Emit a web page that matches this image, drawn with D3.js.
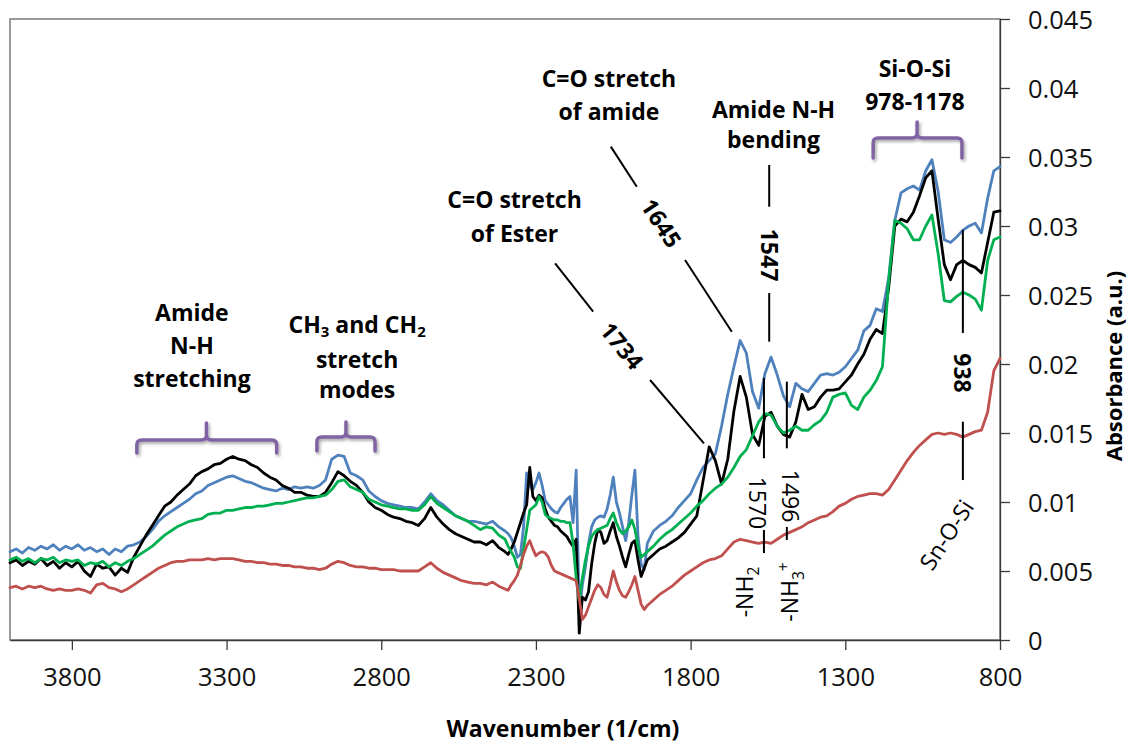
<!DOCTYPE html>
<html>
<head>
<meta charset="utf-8">
<script src="https://cdn.jsdelivr.net/npm/d3@7"></script>
<style>
  html, body { margin: 0; padding: 0; background: #fff; }
  svg { display: block; }
</style>
</head>
<body>
<svg id="chart" width="1132" height="746"></svg>
<script>
// ---------------- DATA ----------------
const xTickValues = [3800, 3300, 2800, 2300, 1800, 1300, 800];
const yTickValues = [0, 0.005, 0.01, 0.015, 0.02, 0.025, 0.03, 0.035, 0.04, 0.045];
const xAxisTitle = "Wavenumber (1/cm)";
const yAxisTitle = "Absorbance (a.u.)";

// [wavenumber (1/cm), absorbance]
const blackSeries = [
[4000,.0056],[3980,.0058],[3960,.0054],[3940,.0057],[3920,.0055],[3900,.0059],[3880,.0054],[3860,.0057],[3840,.0052],[3820,.0056],
[3800,.0053],[3780,.0057],[3760,.0050],[3740,.0046],[3720,.0055],[3700,.0052],[3680,.0053],[3660,.0047],[3640,.0052],[3620,.0049],
[3600,.0060],[3580,.0068],[3560,.0076],[3540,.0083],[3520,.0090],[3500,.0097],[3480,.0100],[3460,.0105],[3440,.0109],[3420,.0113],
[3400,.0119],[3380,.0122],[3360,.0124],[3340,.0127],[3320,.0128],[3300,.0131],[3280,.0133],[3260,.0131],[3240,.0130],[3220,.0127],
[3200,.0125],[3180,.0121],[3160,.0118],[3140,.0116],[3120,.0112],[3100,.0110],[3080,.0107],[3060,.0107],[3040,.0105],[3020,.0104],
[3000,.0104],[2980,.0107],[2960,.0114],[2940,.0122],[2920,.0119],[2900,.0115],[2880,.0112],[2860,.0107],[2840,.0100],[2820,.0096],
[2800,.0094],[2780,.0091],[2760,.0089],[2740,.0088],[2720,.0086],[2700,.0085],[2680,.0083],[2660,.0088],[2640,.0096],[2620,.0089],
[2600,.0084],[2580,.0080],[2560,.0077],[2540,.0075],[2520,.0073],[2500,.0071],[2480,.0071],[2460,.0069],[2440,.0072],[2420,.0067],
[2400,.0064],[2390,.0062],[2380,.0066],[2370,.0071],[2360,.0078],[2350,.0085],[2340,.0092],[2330,.0098],[2320,.0125],[2310,.0104],
[2300,.0101],[2290,.0105],[2280,.0103],[2270,.0095],[2260,.0089],[2250,.0086],[2240,.0083],[2230,.0082],[2220,.0079],[2210,.0077],
[2200,.0075],[2190,.0071],[2180,.0068],[2170,.0073],[2160,.0005],[2150,.0031],[2140,.0029],[2130,.0035],[2120,.0055],[2110,.0070],
[2100,.0080],[2090,.0078],[2080,.0070],[2070,.0072],[2060,.0079],[2050,.0085],[2040,.0075],[2030,.0068],[2020,.0060],[2010,.0053],
[2000,.0062],[1990,.0070],[1980,.0072],[1970,.0058],[1960,.0046],[1950,.0052],[1940,.0058],
[1920,.0062],[1900,.0066],[1880,.0068],[1860,.0071],[1840,.0074],[1820,.0078],[1800,.0084],[1780,.0090],[1760,.0115],[1740,.0140],
[1720,.0130],[1700,.0113],[1680,.0131],[1660,.0166],[1640,.0191],[1620,.0176],[1600,.0149],[1580,.0141],[1560,.0162],[1540,.0165],
[1520,.0155],[1500,.0149],[1480,.0147],[1460,.0158],[1440,.0178],[1420,.0167],[1400,.0169],[1380,.0176],[1360,.0181],[1340,.0181],
[1320,.0182],[1300,.0187],[1280,.0192],[1260,.0200],[1240,.0207],[1220,.0218],[1200,.0225],[1180,.0222],[1160,.0255],[1140,.0300],
[1120,.0305],[1100,.0303],[1080,.0310],[1060,.0322],[1040,.0335],[1020,.0340],[1000,.0305],[980,.0272],[960,.0261],[940,.0272],
[920,.0275],[900,.0272],[880,.0270],[860,.0266],[840,.0288],[820,.0310],[800,.0311]
];

const blueSeries = [
[4000,.0064],[3980,.0066],[3960,.0063],[3940,.0067],[3920,.0065],[3900,.0068],[3880,.0066],[3860,.0069],[3840,.0065],[3820,.0068],
[3800,.0066],[3780,.0069],[3760,.0065],[3740,.0067],[3720,.0064],[3700,.0066],[3680,.0062],[3660,.0066],[3640,.0064],[3620,.0068],
[3600,.0069],[3580,.0071],[3560,.0075],[3540,.0080],[3520,.0086],[3500,.0090],[3480,.0093],[3460,.0096],[3440,.0099],[3420,.0102],
[3400,.0106],[3380,.0108],[3360,.0112],[3340,.0114],[3320,.0116],[3300,.0118],[3280,.0119],[3260,.0117],[3240,.0115],[3220,.0114],
[3200,.0112],[3180,.0110],[3160,.0109],[3140,.0108],[3120,.0110],[3100,.0109],[3080,.0111],[3060,.0110],[3040,.0111],[3020,.0110],
[3000,.0112],[2980,.0116],[2960,.0131],[2940,.0134],[2920,.0133],[2900,.0121],[2880,.0119],[2860,.0116],[2840,.0108],[2820,.0104],
[2800,.0101],[2780,.0099],[2760,.0098],[2740,.0097],[2720,.0096],[2700,.0096],[2680,.0095],[2660,.0100],[2640,.0106],[2620,.0101],
[2600,.0098],[2580,.0094],[2560,.0090],[2540,.0088],[2520,.0086],[2500,.0086],[2480,.0085],[2460,.0084],[2440,.0086],[2420,.0082],
[2400,.0079],[2390,.0077],[2380,.0074],[2370,.0068],[2360,.0060],[2350,.0062],[2340,.0082],[2330,.0121],[2320,.0112],[2310,.0109],
[2300,.0114],[2290,.0121],[2280,.0112],[2270,.0101],[2260,.0098],[2250,.0095],[2240,.0093],[2230,.0092],[2220,.0096],[2210,.0099],
[2200,.0102],[2190,.0104],[2180,.0085],[2170,.0123],[2160,.0020],[2150,.0040],[2140,.0053],[2130,.0070],[2120,.0082],[2110,.0087],
[2100,.0089],[2090,.0090],[2080,.0089],[2070,.0095],[2060,.0105],[2050,.0118],[2040,.0100],[2030,.0092],[2020,.0082],[2010,.0072],
[2000,.0085],[1990,.0105],[1980,.0123],[1970,.0075],[1960,.0055],[1950,.0051],[1940,.0070],
[1920,.0079],[1900,.0083],[1880,.0086],[1860,.0090],[1840,.0096],[1820,.0101],[1800,.0106],[1780,.0116],[1760,.0125],[1740,.0130],
[1720,.0135],[1700,.0155],[1680,.0178],[1660,.0198],[1640,.0217],[1620,.0208],[1600,.0180],[1580,.0168],[1560,.0193],[1540,.0205],
[1520,.0192],[1500,.0177],[1480,.0169],[1460,.0186],[1440,.0182],[1420,.0180],[1400,.0186],[1380,.0192],[1360,.0193],[1340,.0192],
[1320,.0194],[1300,.0198],[1280,.0204],[1260,.0210],[1240,.0224],[1220,.0228],[1200,.0240],[1180,.0238],[1160,.0262],[1140,.0304],
[1120,.0324],[1100,.0327],[1080,.0329],[1060,.0326],[1040,.0340],[1020,.0348],[1000,.0325],[980,.0290],[960,.0288],[940,.0292],
[920,.0297],[900,.0300],[880,.0302],[860,.0295],[840,.0320],[820,.0340],[800,.0343]
];

const greenSeries = [
[4000,.0058],[3980,.0060],[3960,.0057],[3940,.0059],[3920,.0056],[3900,.0059],[3880,.0058],[3860,.0060],[3840,.0056],[3820,.0058],
[3800,.0057],[3780,.0058],[3760,.0054],[3740,.0056],[3720,.0055],[3700,.0057],[3680,.0053],[3660,.0056],[3640,.0054],[3620,.0057],
[3600,.0059],[3580,.0062],[3560,.0065],[3540,.0068],[3520,.0072],[3500,.0076],[3480,.0079],[3460,.0082],[3440,.0084],[3420,.0086],
[3400,.0087],[3380,.0088],[3360,.0091],[3340,.0092],[3320,.0092],[3300,.0094],[3280,.0094],[3260,.0095],[3240,.0096],[3220,.0096],
[3200,.0097],[3180,.0097],[3160,.0098],[3140,.0099],[3120,.0099],[3100,.0100],[3080,.0101],[3060,.0102],[3040,.0103],[3020,.0103],
[3000,.0104],[2980,.0105],[2960,.0109],[2940,.0115],[2920,.0116],[2900,.0111],[2880,.0109],[2860,.0107],[2840,.0102],[2820,.0100],
[2800,.0098],[2780,.0097],[2760,.0096],[2740,.0095],[2720,.0095],[2700,.0094],[2680,.0094],[2660,.0098],[2640,.0104],[2620,.0099],
[2600,.0096],[2580,.0093],[2560,.0090],[2540,.0088],[2520,.0086],[2500,.0083],[2480,.0080],[2460,.0082],[2440,.0081],[2420,.0076],
[2400,.0073],[2390,.0068],[2380,.0064],[2370,.0060],[2360,.0053],[2350,.0052],[2340,.0066],[2330,.0080],[2320,.0094],[2310,.0096],
[2300,.0098],[2290,.0104],[2280,.0100],[2270,.0091],[2260,.0089],[2250,.0088],[2240,.0087],[2230,.0087],[2220,.0086],[2210,.0086],
[2200,.0085],[2190,.0085],[2180,.0070],[2170,.0045],[2160,.0029],[2150,.0045],[2140,.0058],[2130,.0068],[2120,.0075],[2110,.0078],
[2100,.0080],[2090,.0081],[2080,.0082],[2070,.0083],[2060,.0088],[2050,.0092],[2040,.0085],[2030,.0080],[2020,.0077],[2010,.0079],
[2000,.0082],[1990,.0087],[1980,.0080],[1970,.0068],[1960,.0060],[1950,.0062],[1940,.0064],
[1920,.0068],[1900,.0073],[1880,.0077],[1860,.0080],[1840,.0084],[1820,.0088],[1800,.0092],[1780,.0097],[1760,.0101],[1740,.0106],
[1720,.0110],[1700,.0113],[1680,.0118],[1660,.0125],[1640,.0133],[1620,.0138],[1600,.0148],[1580,.0158],[1560,.0164],[1540,.0163],
[1520,.0155],[1500,.0150],[1480,.0152],[1460,.0155],[1440,.0152],[1420,.0152],[1400,.0156],[1380,.0159],[1360,.0165],[1340,.0176],
[1320,.0178],[1300,.0179],[1280,.0170],[1260,.0167],[1240,.0176],[1220,.0181],[1200,.0188],[1180,.0198],[1160,.0260],[1140,.0304],
[1120,.0302],[1100,.0298],[1080,.0290],[1060,.0290],[1040,.0300],[1020,.0308],[1000,.0280],[980,.0246],[960,.0245],[940,.0249],
[920,.0252],[900,.0250],[880,.0247],[860,.0239],[840,.0275],[820,.0290],[800,.0292]
];

const redSeries = [
[4000,.0038],[3980,.0039],[3960,.0037],[3940,.0039],[3920,.0038],[3900,.0039],[3880,.0037],[3860,.0036],[3840,.0037],[3820,.0036],
[3800,.0036],[3780,.0037],[3760,.0036],[3740,.0034],[3720,.0040],[3700,.0041],[3680,.0038],[3660,.0037],[3640,.0035],[3620,.0037],
[3600,.0040],[3580,.0043],[3560,.0046],[3540,.0049],[3520,.0052],[3500,.0054],[3480,.0056],[3460,.0057],[3440,.0057],[3420,.0058],
[3400,.0058],[3380,.0058],[3360,.0059],[3340,.0058],[3320,.0059],[3300,.0059],[3280,.0059],[3260,.0058],[3240,.0057],[3220,.0057],
[3200,.0056],[3180,.0056],[3160,.0055],[3140,.0055],[3120,.0054],[3100,.0054],[3080,.0053],[3060,.0053],[3040,.0052],[3020,.0052],
[3000,.0051],[2980,.0052],[2960,.0055],[2940,.0057],[2920,.0056],[2900,.0054],[2880,.0053],[2860,.0053],[2840,.0052],[2820,.0052],
[2800,.0051],[2780,.0051],[2760,.0051],[2740,.0050],[2720,.0050],[2700,.0050],[2680,.0050],[2660,.0053],[2640,.0056],[2620,.0052],
[2600,.0049],[2580,.0047],[2560,.0045],[2540,.0043],[2520,.0042],[2500,.0041],[2480,.0041],[2460,.0040],[2440,.0042],[2420,.0039],
[2400,.0037],[2390,.0036],[2380,.0040],[2370,.0043],[2360,.0047],[2350,.0054],[2340,.0062],[2330,.0068],[2320,.0072],[2310,.0066],
[2300,.0061],[2290,.0063],[2280,.0064],[2270,.0063],[2260,.0060],[2250,.0054],[2240,.0050],[2230,.0049],[2220,.0048],[2210,.0047],
[2200,.0046],[2190,.0045],[2180,.0044],[2170,.0043],[2160,.0030],[2150,.0015],[2140,.0018],[2130,.0024],[2120,.0030],[2110,.0036],
[2100,.0040],[2090,.0038],[2080,.0033],[2070,.0031],[2060,.0040],[2050,.0050],[2040,.0042],[2030,.0036],[2020,.0032],[2010,.0031],
[2000,.0035],[1990,.0040],[1980,.0046],[1970,.0036],[1960,.0026],[1950,.0022],[1940,.0025],
[1920,.0029],[1900,.0033],[1880,.0036],[1860,.0039],[1840,.0043],[1820,.0047],[1800,.0050],[1780,.0053],[1760,.0056],[1740,.0058],
[1720,.0059],[1700,.0061],[1680,.0066],[1660,.0071],[1640,.0073],[1620,.0072],[1600,.0071],[1580,.0070],[1560,.0071],[1540,.0070],
[1520,.0073],[1500,.0076],[1480,.0078],[1460,.0080],[1440,.0082],[1420,.0085],[1400,.0087],[1380,.0089],[1360,.0090],[1340,.0093],
[1320,.0097],[1300,.0099],[1280,.0102],[1260,.0104],[1240,.0105],[1220,.0106],[1200,.0106],[1180,.0105],[1160,.0109],[1140,.0116],
[1120,.0123],[1100,.0130],[1080,.0136],[1060,.0141],[1040,.0145],[1020,.0149],[1000,.0150],[980,.0149],[960,.0150],[940,.0149],
[920,.0147],[900,.0149],[880,.0151],[860,.0152],[840,.0165],[820,.0195],[800,.0204]
];

const seriesColors = { blue: "#4F81BD", black: "#000000", green: "#00B050", red: "#C0504D" };

// ---------------- LAYOUT ----------------
const svg = d3.select("#chart");
const margin = { left: 10, right: 132, top: 19, bottom: 106 };
const width = 1132, height = 746;
const x = d3.scaleLinear().domain([4000, 800]).range([margin.left, width - margin.right]);
const y = d3.scaleLinear().domain([0, 0.045]).range([height - margin.bottom, margin.top]);
const FONT = "'Open Sans', 'Noto Sans', Arial, sans-serif";

// Plot area frame
svg.append("rect")
  .attr("x", x(4000)).attr("y", y(0.045))
  .attr("width", x(800) - x(4000)).attr("height", y(0) - y(0.045))
  .attr("fill", "none").attr("stroke", "#7a7a7a").attr("stroke-width", 1.5);

// Axes
const xAxis = svg.append("g")
  .attr("transform", `translate(0,${y(0)})`)
  .call(d3.axisBottom(x).tickValues(xTickValues).tickSize(10).tickSizeOuter(0).tickFormat(d3.format("d")));
xAxis.selectAll("text").attr("y", 46).attr("dy", 0);

const yAxis = svg.append("g")
  .attr("transform", `translate(${x(800)},0)`)
  .call(d3.axisRight(y).tickValues(yTickValues).tickSize(10).tickSizeOuter(0).tickPadding(18)
    .tickFormat(d => String(+d.toFixed(3))));
yAxis.selectAll("text").attr("dy", "0.36em");

[xAxis, yAxis].forEach(g => {
  g.select(".domain").attr("stroke", "#3a3a3a").attr("stroke-width", 1.3);
  g.selectAll(".tick line").attr("stroke", "#3a3a3a").attr("stroke-width", 1.3);
  g.selectAll("text").attr("fill", "#111").style("font-family", FONT).style("font-size", "25.5px");
});

// Axis titles
svg.append("text")
  .attr("x", 563).attr("y", 737)
  .attr("text-anchor", "middle")
  .style("font-family", FONT).style("font-weight", "bold").style("font-size", "23px")
  .text(xAxisTitle);

svg.append("text")
  .attr("transform", `translate(1122,366) rotate(-90)`)
  .attr("text-anchor", "middle")
  .style("font-family", FONT).style("font-weight", "bold").style("font-size", "22px")
  .text(yAxisTitle);

// Series
const line = d3.line().x(d => x(d[0])).y(d => y(d[1]));
const drawOrder = [
  ["blue", blueSeries], ["black", blackSeries], ["green", greenSeries], ["red", redSeries]
];
drawOrder.forEach(([name, data]) => {
  svg.append("path")
    .datum(data)
    .attr("fill", "none")
    .attr("stroke", seriesColors[name])
    .attr("stroke-width", 2.8)
    .attr("stroke-linejoin", "round")
    .attr("stroke-linecap", "round")
    .attr("d", line);
});

// ---------------- ANNOTATIONS ----------------
const defs = svg.append("defs");
const f = defs.append("filter").attr("id", "shadow").attr("x", "-20%").attr("y", "-50%").attr("width", "140%").attr("height", "200%");
f.append("feDropShadow").attr("dx", 1.5).attr("dy", 2).attr("stdDeviation", 1.6)
  .attr("flood-color", "#000").attr("flood-opacity", 0.35);

// brackets: [left wn, center wn, right wn, horizontal abs, end abs, stem-top abs]
const brackets = [
  [3590, 3365, 3138, 0.01449, 0.01355, 0.01572],
  [3008, 2914, 2820, 0.01471, 0.01370, 0.01580],
  [1210, 1068, 923, 0.03638, 0.03493, 0.03754]
];
brackets.forEach(([w0, wc, w1, vh, ve, vt]) => {
  const x0 = x(w0), xc = x(wc), x1 = x(w1), yh = y(vh), ye = y(ve), yt = y(vt), r = 5;
  const p = `M${x0},${ye} L${x0},${yh + r} Q${x0},${yh} ${x0 + r},${yh} L${xc - r},${yh} Q${xc},${yh} ${xc},${yh - r} L${xc},${yt}
             M${xc},${yh - r} Q${xc},${yh} ${xc + r},${yh} L${x1 - r},${yh} Q${x1},${yh} ${x1},${yh + r} L${x1},${ye}`;
  svg.append("path").attr("d", p).attr("fill", "none")
    .attr("stroke", "#8064A2").attr("stroke-width", 3.5).attr("stroke-linecap", "round")
    .attr("filter", "url(#shadow)");
});

function addLine(wn, v, segments, size, weight) {
  const t = svg.append("text")
    .attr("x", x(wn)).attr("y", y(v))
    .attr("text-anchor", "middle")
    .style("font-family", FONT).style("font-weight", weight || "bold").style("font-size", size + "px");
  segments.forEach(seg => {
    const [txt, kind] = seg;
    const ts = t.append("tspan").text(txt);
    if (kind === "sub") ts.attr("dy", 4).style("font-size", (size * 0.65) + "px");
    if (kind === "after") ts.attr("dy", -4);
  });
  return t;
}
const labelLines = [
  [3412, .02312, [["Amide"]]],
  [3412, .02072, [["N-H"]]],
  [3412, .01833, [["stretching"]]],
  [2878, .02225, [["CH"], ["3", "sub"], [" and CH", "after"], ["2", "sub"]]],
  [2878, .01971, [["stretch"]]],
  [2878, .01754, [["modes"]]],
  [2064, .04010, [["C=O stretch"]]],
  [2064, .03768, [["of amide"]]],
  [2369, .03130, [["C=O stretch"]]],
  [2369, .02886, [["of Ester"]]],
  [1532, .03780, [["Amide N-H"]]],
  [1532, .03563, [["bending"]]],
  [1075, .04082, [["Si-O-Si"]]],
  [1075, .03841, [["978-1178"]]]
];
labelLines.forEach(([wn, v, segs]) => addLine(wn, v, segs, 23, "bold"));

// leader lines (wavenumber/absorbance pairs)
const leaders = [
  [[2058, .03575], [1974, .03285]], [[1818, .02754], [1667, .02234]],
  [[2238, .02730], [2115, .02379]], [[1931, .01884], [1757, .01425]],
  [[1546, .03442], [1546, .03140]], [[1546, .02514], [1546, .02162]],
  [[1563, .01899], [1563, .01317]], [[1563, .00797], [1563, .00630]],
  [[1489, .01872], [1489, .01389]], [[1489, .00819], [1489, .00725]],
  [[920, .02971], [920, .02225]], [[920, .01582], [920, .01159]]
];
leaders.forEach(([a, b]) => {
  svg.append("line")
    .attr("x1", x(a[0])).attr("y1", y(a[1])).attr("x2", x(b[0])).attr("y2", y(b[1]))
    .attr("stroke", "#000").attr("stroke-width", 2);
});

// rotated labels: [wn, abs, angle, segments, weight]
const rotated = [
  [1896, .03020, 56.8, [["1645"]], "bold"],
  [2023, .02130, 51, [["1734"]], "bold"],
  [1546, .02790, 90, [["1547"]], "bold"],
  [1585, .00993, 90, [["1570"]], "normal"],
  [1479, .01043, 90, [["1496"]], "normal"],
  [1624, .00348, -90, [["-NH"], ["2", "sub"]], "normal"],
  [1479, .00348, -90, [["-NH"], ["3", "sub"], ["+", "sup"]], "normal"],
  [924, .01935, 90, [["938"]], "bold"],
  [972, .00761, -56.8, [["Sn-O-Si"]], "normal"]
];
rotated.forEach(([wn, v, ang, segs, weight]) => {
  const size = 23;
  const t = svg.append("text")
    .attr("transform", `translate(${x(wn)},${y(v)}) rotate(${ang})`)
    .attr("text-anchor", "middle")
    .attr("dy", "0.35em")
    .style("font-family", FONT).style("font-weight", weight).style("font-size", size + "px");
  segs.forEach(([txt, kind]) => {
    const ts = t.append("tspan").text(txt);
    if (kind === "sub") ts.attr("dy", 6).style("font-size", (size * 0.68) + "px");
    if (kind === "sup") ts.attr("dy", -15).style("font-size", (size * 0.68) + "px");
  });
});
</script>
</body>
</html>
